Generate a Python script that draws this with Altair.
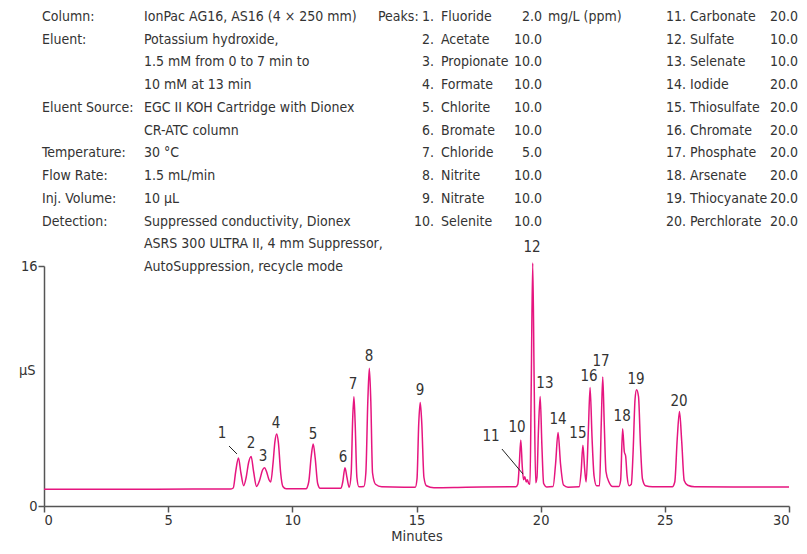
import altair as alt
import pandas as pd

FONT = "DejaVu Sans Condensed, Liberation Sans, sans-serif"
FS = 14
TXT = "#333333"
LINE = "#E6157F"

# ---- chromatogram trace (minutes, µS) ----
trace_t = [0.00, 3.00, 6.00, 7.50, 7.62, 7.72, 7.83, 7.93, 8.04, 8.14, 8.24, 8.34, 8.44, 8.56,
           8.68, 8.80, 8.88, 8.96, 9.06, 9.13, 9.22, 9.30, 9.37, 9.44, 9.53, 9.62, 9.75,
           10.55, 10.66, 10.76, 10.84, 10.92, 11.02, 11.12, 11.96, 12.03, 12.12, 12.20, 12.29,
           12.37, 12.43, 12.48, 12.53, 12.60, 12.68, 12.88, 12.96, 13.04, 13.10, 13.16, 13.23,
           13.35, 13.60, 14.50, 14.95, 15.02, 15.09, 15.15, 15.21, 15.30, 15.40, 15.70, 17.00,
           19.00, 19.08, 19.14, 19.20, 19.26, 19.31, 19.36, 19.42, 19.46, 19.52, 19.57, 19.62,
           19.68, 19.74, 19.80, 19.85, 19.91, 19.98, 20.05, 20.12, 20.25, 20.50, 20.60, 20.70,
           20.80, 20.92, 21.10, 21.55, 21.63, 21.70, 21.77, 21.83, 21.92, 21.99, 22.07, 22.15,
           22.25, 22.37, 22.44, 22.50, 22.56, 22.63, 22.75, 22.90, 23.15, 23.22, 23.30, 23.37,
           23.42, 23.48, 23.56, 23.65, 23.72, 23.80, 23.86, 23.94, 24.02, 24.10, 24.22, 24.50,
           25.30, 25.40, 25.50, 25.59, 25.68, 25.78, 25.92, 26.20, 28.00, 30.00]
trace_v = [1.12, 1.12, 1.13, 1.13, 1.20, 2.30, 3.20, 2.20, 1.35, 1.90, 2.90, 3.30, 2.30, 1.30,
           1.70, 2.40, 2.55, 2.30, 1.75, 1.60, 2.80, 4.30, 4.80, 4.20, 2.20, 1.30, 1.15,
           1.15, 1.60, 3.30, 4.13, 3.20, 1.50, 1.18, 1.18, 1.60, 2.55, 1.90, 1.25,
           2.20, 5.80, 7.28, 5.50, 1.90, 1.28, 1.30, 2.20, 7.00, 9.18, 7.00, 2.20,
           1.45, 1.28, 1.25, 1.25, 1.80, 5.50, 6.90, 5.60, 1.90, 1.35, 1.22, 1.25,
           1.28, 1.45, 2.80, 4.40, 2.60, 1.75, 1.95, 1.60, 1.75, 1.50, 1.45, 8.00,
           16.20, 8.00, 1.55, 1.90, 5.00, 7.30, 4.00, 1.50, 1.27, 1.30, 2.80, 4.90,
           2.80, 1.40, 1.25, 1.28, 2.30, 4.05, 2.50, 1.60, 5.00, 7.90, 4.50, 2.00,
           1.35, 1.35, 5.50, 8.60, 5.50, 2.30, 1.60, 1.30, 1.30, 1.70, 5.15, 3.60,
           3.35, 2.00, 1.35, 1.45, 3.50, 7.10, 7.75, 7.30, 4.00, 1.80, 1.35, 1.28,
           1.28, 1.60, 4.50, 6.30, 4.30, 1.70, 1.38, 1.28, 1.27, 1.27]

# ---- peak numbers and where their labels sit ----
peak_num = [str(i) for i in range(1, 21)]
label_t = [7.17, 8.34, 8.82, 9.34, 10.83, 12.04, 12.44, 13.09, 15.14, 19.05,
           18.00, 19.65, 20.17, 20.70, 21.50, 21.95, 22.43, 23.28, 23.84, 25.57]
label_v = [4.87, 4.20, 3.33, 5.53, 4.80, 3.27, 8.13, 10.00, 7.73, 5.27,
           4.67, 17.27, 8.20, 5.80, 4.87, 8.67, 9.67, 6.00, 8.47, 7.00]
leader_t1 = [7.45, 18.44]
leader_t2 = [7.77, 19.29]
leader_v1 = [4.00, 3.80]
leader_v2 = [3.47, 2.13]

# ---- header text ----
cond_labels = ["Column:", "Eluent:", "", "", "Eluent Source:", "", "Temperature:",
               "Flow Rate:", "Inj. Volume:", "Detection:", "", ""]
cond_values = ["IonPac AG16, AS16 (4 × 250 mm)", "Potassium hydroxide,",
               "1.5 mM from 0 to 7 min to", "10 mM at 13 min",
               "EGC II KOH Cartridge with Dionex", "CR-ATC column", "30 °C",
               "1.5 mL/min", "10 µL", "Suppressed conductivity, Dionex",
               "ASRS 300 ULTRA II, 4 mm Suppressor,", "AutoSuppression, recycle mode"]
peak_names = ["Fluoride", "Acetate", "Propionate", "Formate", "Chlorite", "Bromate",
              "Chloride", "Nitrite", "Nitrate", "Selenite", "Carbonate", "Sulfate",
              "Selenate", "Iodide", "Thiosulfate", "Chromate", "Phosphate", "Arsenate",
              "Thiocyanate", "Perchlorate"]
peak_conc = ["2.0", "10.0", "10.0", "10.0", "10.0", "10.0", "5.0", "10.0", "10.0", "10.0",
             "20.0", "10.0", "10.0", "20.0", "20.0", "20.0", "20.0", "20.0", "20.0", "20.0"]
conc_unit = "mg/L (ppm)"

# layout of the header (pixels relative to the plot's top-left corner)
ROW0 = 17 - 266
ROWH = 22.73

def row_y(i):
    return ROW0 + ROWH * i

left_rows, right_rows = [], []
for i, (lab, val) in enumerate(zip(cond_labels, cond_values)):
    if lab:
        left_rows.append({"px": -2, "py": row_y(i), "txt": lab})
    left_rows.append({"px": 100, "py": row_y(i), "txt": val})
left_rows.append({"px": 334, "py": row_y(0), "txt": "Peaks:"})
for k in range(20):
    col = k // 10
    r = k % 10
    num_x, name_x, conc_x = (390, 397, 498) if col == 0 else (642, 646, 754)
    right_rows.append({"px": num_x, "py": row_y(r), "txt": f"{k + 1}."})
    left_rows.append({"px": name_x, "py": row_y(r), "txt": peak_names[k]})
    right_rows.append({"px": conc_x, "py": row_y(r), "txt": peak_conc[k]})
left_rows.append({"px": 504, "py": row_y(0), "txt": conc_unit})

trace_df = pd.DataFrame({"t": trace_t, "v": trace_v})
label_df = pd.DataFrame({"t": label_t, "v": label_v, "n": peak_num})
leader_df = pd.DataFrame({"t1": leader_t1, "t2": leader_t2, "v1": leader_v1, "v2": leader_v2})

xscale = alt.Scale(domain=[0, 30], nice=False, zero=False)
yscale = alt.Scale(domain=[0, 16], nice=False)

trace = alt.Chart(trace_df).mark_line(
    interpolate="monotone", color=LINE, strokeWidth=1.5
).encode(
    x=alt.X("t:Q", scale=xscale, title="Minutes",
            axis=alt.Axis(values=[0, 5, 10, 15, 20, 25, 30], format="d")),
    y=alt.Y("v:Q", scale=yscale, title="µS",
            axis=alt.Axis(values=[0, 16], format="d", titleAngle=0, titleAlign="right",
                          titleBaseline="middle", titleX=-9, titleY=104)),
)

leaders = alt.Chart(leader_df).mark_rule(color="#222222", strokeWidth=1).encode(
    x="t1:Q", x2="t2:Q", y="v1:Q", y2="v2:Q"
)

labels = alt.Chart(label_df).mark_text(
    font=FONT, fontSize=15, color=TXT, baseline="middle", align="center"
).encode(x="t:Q", y="v:Q", text="n:N")

hdr_left = alt.Chart(pd.DataFrame(left_rows)).mark_text(
    font=FONT, fontSize=FS, color=TXT, baseline="middle", align="left"
).encode(
    x=alt.X("px:Q", scale=None, axis=None),
    y=alt.Y("py:Q", scale=None, axis=None),
    text="txt:N",
)
hdr_right = alt.Chart(pd.DataFrame(right_rows)).mark_text(
    font=FONT, fontSize=FS, color=TXT, baseline="middle", align="right"
).encode(
    x=alt.X("px:Q", scale=None, axis=None),
    y=alt.Y("py:Q", scale=None, axis=None),
    text="txt:N",
)

chart = alt.layer(trace, leaders, labels, hdr_left, hdr_right).properties(
    width=745, height=240,
    autosize=alt.AutoSizeParams(type="none"),
    padding={"left": 36, "top": 258, "right": 10, "bottom": 39},
).configure_view(stroke=None).configure_axis(
    grid=False, domainColor="#555555", domainWidth=1.5, tickColor="#555555",
    tickWidth=1.5, tickSize=6, labelFont=FONT, labelFontSize=14.5, labelColor=TXT,
    titleFont=FONT, titleFontSize=14.5, titleColor=TXT, titleFontWeight="normal",
    labelPadding=1, titlePadding=3,
)

chart.save("out.html", embed_options={"renderer": "svg", "actions": False})
